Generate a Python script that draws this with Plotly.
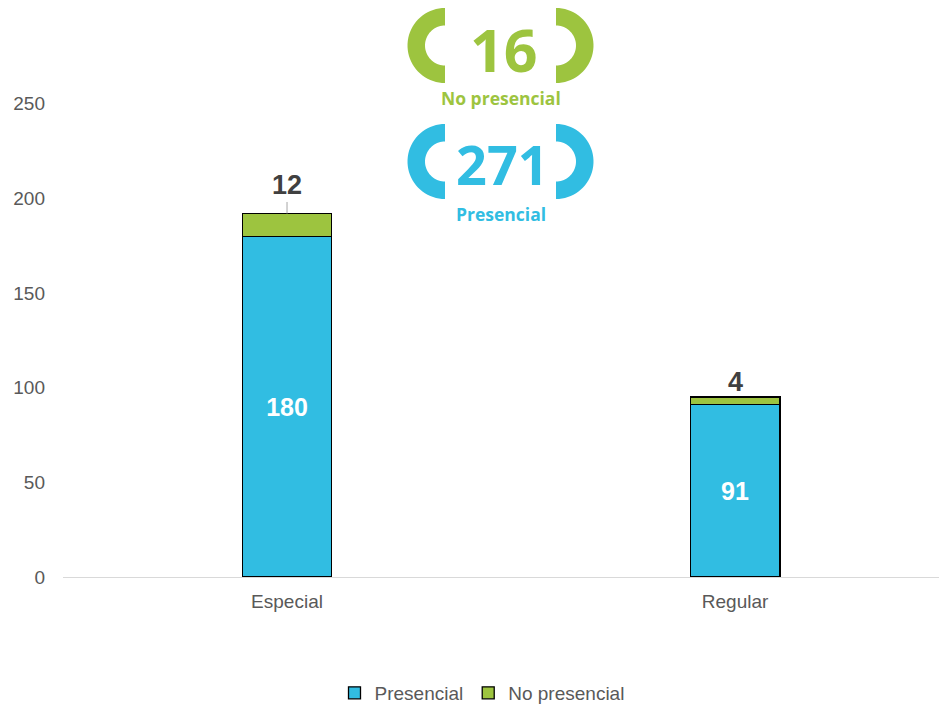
import numpy as np
import plotly.graph_objects as go

categories = ["Especial", "Regular"]
presencial = [180, 91]
no_presencial = [12, 4]
total_presencial = 271
total_no_presencial = 16
y_ticks = [0, 50, 100, 150, 200, 250]

BLUE = "#31BDE2"
GREEN = "#9DC43F"
GREY = "#595959"
DARK = "#404040"

OFF = 8  # page body margin in the browser
W, H = 947, 704 - OFF
ML, MR, MT, MB = 63 - OFF, OFF, 1, 127
PW, PH = W - ML - MR, H - MT - MB


def px2paper(px, py):
    # px, py given in page pixels of the reference
    fx, fy = px - OFF, py - OFF
    return (fx - ML) / PW, (H - MB - fy) / PH


def half_ring(cx, cy, r_out, r_in, side):
    t = np.linspace(0, np.pi, 40)
    s = -1 if side == "left" else 1
    pts = [(cx + s * r_out * np.sin(a), cy - r_out * np.cos(a)) for a in t]
    pts += [(cx + s * r_in * np.sin(a), cy - r_in * np.cos(a)) for a in t[::-1]]
    pp = [px2paper(x, y) for x, y in pts]
    return "M" + " L".join(f"{x:.5f},{y:.5f}" for x, y in pp) + " Z"


fig = go.Figure()
fig.add_bar(
    x=categories, y=presencial, name="Presencial", width=0.2,
    marker=dict(color=BLUE, line=dict(color="black", width=1.3)),
    texttemplate="<b>%{y}</b>", textposition="inside", insidetextanchor="middle",
    textfont=dict(family="Liberation Sans, Arial", size=25, color="white"),
    constraintext="none",
)
fig.add_bar(
    x=categories, y=no_presencial, name="No presencial", width=0.2,
    marker=dict(color=GREEN, line=dict(color="black", width=1.3)),
    textposition="none",
)

# labels above the green segments
label_offsets = [28, 15]
leader = [True, False]
for i, cat in enumerate(categories):
    tot = presencial[i] + no_presencial[i]
    if leader[i]:
        fig.add_annotation(
            x=cat, y=tot, text=f"<b>{no_presencial[i]}</b>", showarrow=True,
            arrowhead=0, arrowwidth=1, arrowcolor="#A6A6A6", ax=0, ay=-label_offsets[i],
            font=dict(family="Liberation Sans, Arial", size=27, color=DARK),
        )
    else:
        fig.add_annotation(
            x=cat, y=tot, text=f"<b>{no_presencial[i]}</b>", showarrow=False,
            yshift=label_offsets[i], yanchor="middle",
            font=dict(family="Liberation Sans, Arial", size=27, color=DARK),
        )

# decorative totals
shapes = []
for (cy, col) in [(45.5, GREEN), (161.5, BLUE)]:
    for cx, side in [(445, "left"), (556, "right")]:
        shapes.append(dict(type="path", xref="paper", yref="paper",
                           path=half_ring(cx, cy, 37.5, 20, side),
                           fillcolor=col, line=dict(width=0)))
fig.update_layout(shapes=shapes)

num_font = "Open Sans"
for txt, (px, py), size, col in [
    (str(total_no_presencial), (503, 49), 59, GREEN),
    ("No presencial", (501, 98), 17.5, GREEN),
    (str(total_presencial), (502, 164), 54, BLUE),
    ("Presencial", (501, 214), 17.5, BLUE),
]:
    x, y = px2paper(px, py)
    fig.add_annotation(xref="paper", yref="paper", x=x, y=y, text=f"<b>{txt}</b>",
                       showarrow=False, xanchor="center", yanchor="middle",
                       font=dict(family=num_font, size=size, color=col))

fig.update_layout(
    width=W, height=H,
    margin=dict(l=ML, r=MR, t=MT, b=MB),
    paper_bgcolor="white", plot_bgcolor="white",
    barmode="stack",
    font=dict(family="Liberation Sans, Arial", size=19, color=GREY),
    xaxis=dict(range=[-0.5, 1.473], showline=True, linecolor="#D9D9D9", linewidth=1,
               showgrid=False, ticks="", ticklabelstandoff=7,
               tickfont=dict(size=19, color=GREY)),
    yaxis=dict(range=[0, 300], tickvals=y_ticks, showgrid=False, zeroline=False,
               showline=False, ticks="", ticklabelstandoff=17,
               tickfont=dict(size=19, color=GREY)),
    legend=dict(orientation="h", xref="container", yref="container",
                x=(482 - OFF) / W, y=11 / H, xanchor="center", yanchor="middle",
                font=dict(size=19, color=GREY), itemwidth=30, traceorder="normal"),
    showlegend=True,
)

fig.write_html("out.html")
